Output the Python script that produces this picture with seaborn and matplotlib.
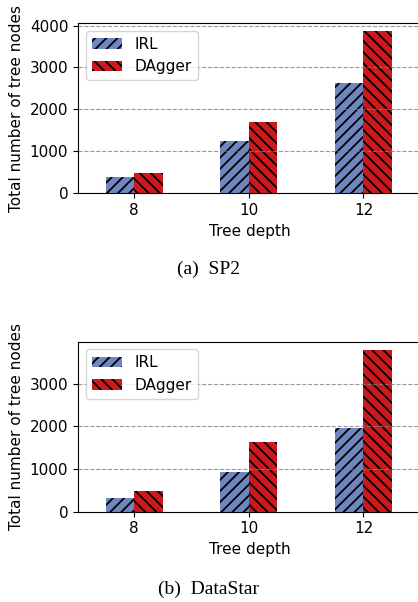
import matplotlib
matplotlib.use("Agg")
import matplotlib.pyplot as plt
import pandas as pd
import seaborn as sns

# tree depths and total node counts
depths = ["8", "10", "12"]
methods = ["IRL", "DAgger"]
sp2_irl = [390, 1250, 2630]
sp2_dagger = [480, 1700, 3870]
ds_irl = [320, 930, 1960]
ds_dagger = [480, 1620, 3790]

colors = ["#6f86c0", "#cc1a1c"]
hatches = ["///", "\\\\\\"]

plt.rcParams["hatch.linewidth"] = 1.3


def make_frame(irl, dagger):
    rows = []
    for d, a, b in zip(depths, irl, dagger):
        rows.append({"depth": d, "method": "IRL", "nodes": a})
        rows.append({"depth": d, "method": "DAgger", "nodes": b})
    return pd.DataFrame(rows)


fig = plt.figure(figsize=(4.18, 6.02), dpi=100)
ax1 = fig.add_axes([0.1866, 0.679, 0.82, 0.283])
ax2 = fig.add_axes([0.1866, 0.150, 0.82, 0.2824])

for ax, irl, dagger in [(ax1, sp2_irl, sp2_dagger), (ax2, ds_irl, ds_dagger)]:
    df = make_frame(irl, dagger)
    sns.barplot(data=df, x="depth", y="nodes", hue="method", hue_order=methods,
                order=depths, palette=colors, width=0.5, gap=0, ax=ax,
                saturation=1, linewidth=0, edgecolor="black", legend=False)
    for cont, h in zip(ax.containers, hatches):
        for p in cont.patches:
            p.set_hatch(h)
            p.set_edgecolor("black")
            p.set_linewidth(0)
    ax.set_xlim(-0.49, 2.5)
    # grid sits on top of the bars in the original
    ax.set_axisbelow(False)
    ax.grid(axis="y", linestyle="--", color="gray", alpha=0.8)
    ax.set_xlabel("Tree depth", fontsize=11)
    ax.set_ylabel("Total number of tree nodes", fontsize=11)
    ax.tick_params(labelsize=11)
    ax.legend(ax.containers, methods, loc="upper left", fontsize=11)

fig.text(0.5, 0.553, "(a)  SP2", ha="center", va="center",
         family="Liberation Serif", fontsize=14)
fig.text(0.5, 0.021, "(b)  DataStar", ha="center", va="center",
         family="Liberation Serif", fontsize=14)

fig.savefig("out.png", dpi=100)
